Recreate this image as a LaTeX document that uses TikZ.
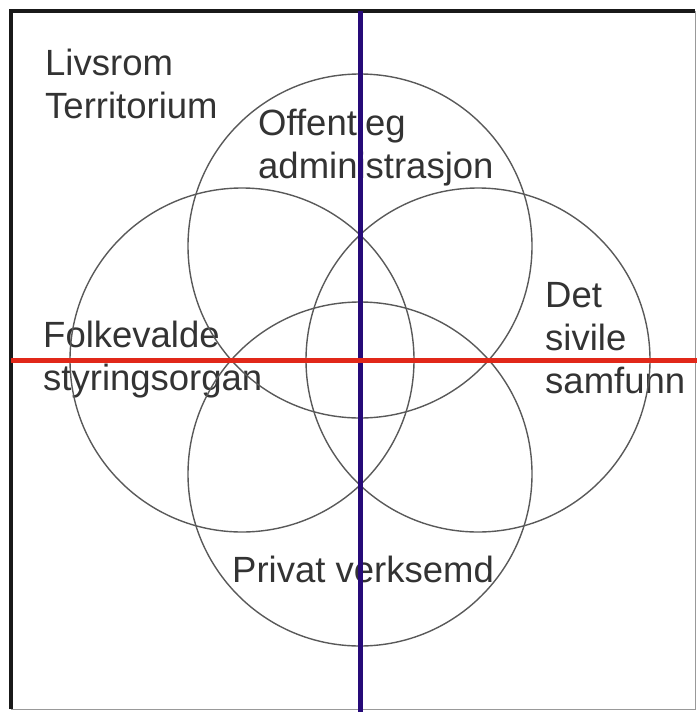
\documentclass[tikz,border=0pt]{standalone}
\usepackage{fontspec}
\setmainfont{Liberation Sans}
\usepackage{tikz}
\definecolor{axisblue}{RGB}{38,10,120}
\definecolor{axisred}{RGB}{225,40,25}
\tikzstyle{sect_lbl} = [anchor=base west, align=left, inner sep=0pt, text=black!80, font=\fontsize{36.5}{43}\selectfont]
\tikzstyle{sect_circ} = [circle, draw=black!65, line width=1.4pt, minimum size=344pt, inner sep=0pt]
\tikzstyle{axis_v} = [draw=axisblue, line width=5pt]
\tikzstyle{axis_h} = [draw=axisred, line width=5pt]

\begin{document}
\begin{tikzpicture}[x=1pt,y=-1pt]
\useasboundingbox (0,0) rectangle (697,712);
% labels (anchored on the last line)
\node [sect_lbl] (terr) at (45,118) {Livsrom\\Territorium};
\node [sect_lbl] (offentleg_lbl) at (258,178) {Offentleg\\administrasjon};
\node [sect_lbl] (folk_lbl) at (43,390) {Folkevalde\\styringsorgan};
\node [sect_lbl] (sivil_lbl) at (545,393) {Det\\sivile\\samfunn};
\node [sect_lbl] (privat_lbl) at (232,582) {Privat verksemd};
% circles
\node [sect_circ] (offentleg) at (360,246) {};
\node [sect_circ] (folk) at (242,360) {};
\node [sect_circ] (sivil) at (478,360) {};
\node [sect_circ] (privat) at (360,474) {};
% frame
\coordinate (tl) at (11,11);
\coordinate (tr) at (695,11);
\coordinate (bl) at (11,709);
\coordinate (br) at (695,709);
\draw [black!40, line width=1pt] (tr) -- (br) -- (bl);
\draw [black!90, line width=4pt] (bl) -- (tl) -- (tr);
% axes
\coordinate (vtop) at (360,11);
\coordinate (vbot) at (360,712);
\coordinate (hleft) at (11,360);
\coordinate (hright) at (697,360);
\draw [axis_v] (vtop) -- (vbot);
\draw [axis_h] (hleft) -- (hright);
\end{tikzpicture}
\end{document}
